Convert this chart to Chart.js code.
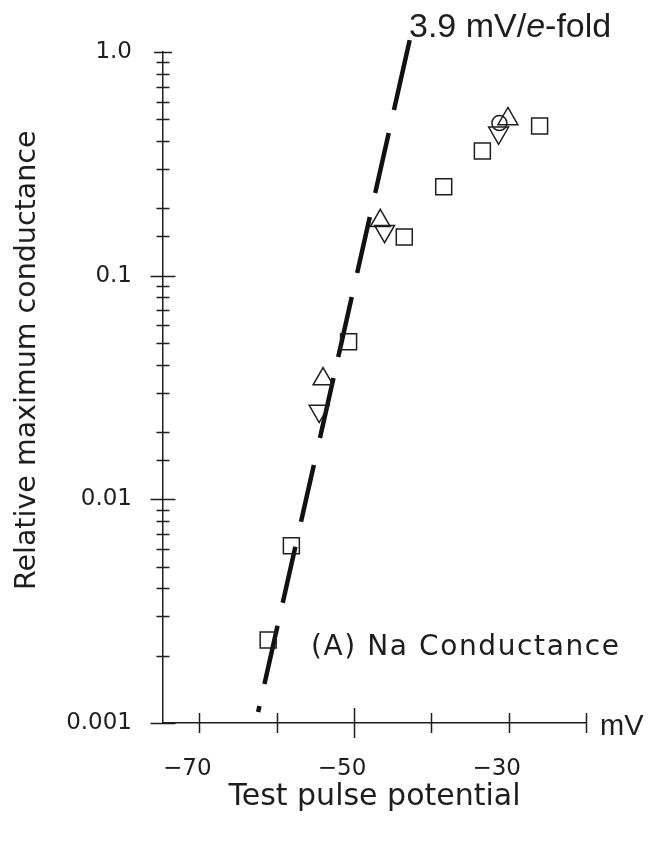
<!DOCTYPE html>
<html>
<head>
<meta charset="utf-8">
<title>Na conductance</title>
<script src="https://cdn.jsdelivr.net/npm/chart.js@4.4.0/dist/chart.umd.min.js"></script>
<style>
  html, body { margin: 0; padding: 0; background: #fff; }
</style>
</head>
<body>
<canvas id="canvas" width="650" height="845"></canvas>
<script>
// values (mV, relative conductance)
var squareX = [-61.1, -58.1, -50.7, -43.5, -38.4, -33.4, -26.0];
var squareY = [0.00235, 0.0062, 0.0507, 0.149, 0.25, 0.361, 0.467];
var upX = [-54.0, -46.6, -30.1];
var upY = [0.0345, 0.176, 0.502];
var downX = [-54.5, -46.05, -31.3];
var downY = [0.0248, 0.158, 0.435];
var circleX = [-31.2];
var circleY = [0.481];
var fitX = [-62.4, -42.8];
var fitY = [0.00112, 1.13];

var xLabelTicks = [-70, -50, -30];
var yMajor = [1, 0.1, 0.01, 0.001];
var yMajorLabels = ['1.0', '0.1', '0.01', '0.001'];

var INK = '#1e1e1e';

function pts(xs, ys) {
    return xs.map(function (x, i) {
        return {x: x, y: ys[i]};
    });
}

function majorIndex(v) {
    for (var i = 0; i < yMajor.length; i++) {
        if (Math.abs(v - yMajor[i]) < yMajor[i] * 1e-6) {
            return i;
        }
    }
    return -1;
}

// ticks cross the axis lines, so they are drawn here from the scales
var axisMarks = {
    id: 'axisMarks',
    afterDraw: function (chart) {
        var ctx = chart.ctx;
        var xs = chart.scales.x;
        var ys = chart.scales.y;
        var left = chart.chartArea.left;
        var bottom = chart.chartArea.bottom;
        ctx.save();
        ctx.strokeStyle = INK;
        ctx.lineWidth = 1.5;
        ctx.beginPath();
        ys.ticks.forEach(function (t) {
            var py = Math.round(ys.getPixelForValue(t.value)) + 0.5;
            var i = majorIndex(t.value);
            var len = i < 0 ? 6.5 : (i === 0 ? 9 : 12.5);
            ctx.moveTo(left - len, py);
            ctx.lineTo(left + len, py);
        });
        xs.ticks.forEach(function (t) {
            var px = Math.round(xs.getPixelForValue(t.value)) + 0.5;
            var len = t.value === -50 ? 15 : 10;
            ctx.moveTo(px, bottom - len);
            ctx.lineTo(px, bottom + len);
        });
        ctx.stroke();

        ctx.fillStyle = INK;
        ctx.textBaseline = 'alphabetic';
        ctx.textAlign = 'left';
        var x = 409;
        [
            {text: '3.9 mV/', font: '34px "Liberation Sans"'},
            {text: 'e', font: 'italic 34px "Liberation Sans"'},
            {text: '-fold', font: '34px "Liberation Sans"'}
        ].forEach(function (p) {
            ctx.font = p.font;
            ctx.fillText(p.text, x, 37);
            x += ctx.measureText(p.text).width;
        });
        ctx.font = '28px "DejaVu Sans"';
        ctx.letterSpacing = '1.6px';
        ctx.fillText('(A) Na Conductance', 311, 655);
        ctx.letterSpacing = '0px';
        ctx.font = '29px "Liberation Sans"';
        ctx.fillText('mV', 600, 735);
        ctx.restore();
    }
};

Chart.defaults.font.family = '"DejaVu Sans", sans-serif';
Chart.defaults.color = INK;

var markerBase = {
    borderColor: INK,
    backgroundColor: 'rgba(0,0,0,0)',
    borderWidth: 1.5,
    showLine: false
};

var chart = new Chart(document.getElementById('canvas'), {
    type: 'scatter',
    data: {
        datasets: [
            Object.assign({}, markerBase, {
                label: 'squares',
                data: pts(squareX, squareY),
                pointStyle: 'rect',
                pointRadius: 11.3
            }),
            Object.assign({}, markerBase, {
                label: 'up',
                data: pts(upX, upY),
                pointStyle: 'triangle',
                pointRadius: 11.5
            }),
            Object.assign({}, markerBase, {
                label: 'down',
                data: pts(downX, downY),
                pointStyle: 'triangle',
                rotation: 180,
                pointRadius: 11.5
            }),
            Object.assign({}, markerBase, {
                label: 'circle',
                data: pts(circleX, circleY),
                pointStyle: 'circle',
                pointRadius: 7.5
            }),
            {
                label: '3.9 mV/e-fold',
                data: pts(fitX, fitY),
                showLine: true,
                pointRadius: 0,
                borderColor: '#111',
                borderWidth: 4.5,
                // uneven hand-cut dashes, measured along the line from its lower end
                borderDash: [6.2, 22.6, 59.5, 23.6, 57.4, 25.6, 58.4, 27.7, 61.5, 21.5,
                    61.5, 24.6, 57.4, 24.6, 61.5, 23.6, 80],
                borderCapStyle: 'butt',
                clip: false
            }
        ]
    },
    options: {
        responsive: false,
        animation: false,
        events: [],
        layout: {
            padding: {top: 52, right: 64, bottom: 0, left: 0}
        },
        plugins: {
            legend: {display: false},
            tooltip: {enabled: false}
        },
        scales: {
            x: {
                type: 'linear',
                min: -74.7,
                max: -20,
                afterFit: function (axis) {
                    axis.height = 122;
                },
                grid: {drawOnChartArea: false, drawTicks: false},
                border: {display: true, color: INK, width: 1.5},
                ticks: {
                    stepSize: 10,
                    includeBounds: false,
                    autoSkip: false,
                    maxRotation: 0,
                    padding: 32,
                    labelOffset: -12,
                    font: {size: 23},
                    callback: function (v) {
                        return xLabelTicks.indexOf(v) >= 0 ? '\u2212' + Math.abs(v) : '';
                    }
                },
                title: {
                    display: true,
                    text: 'Test pulse potential',
                    font: {size: 30},
                    padding: {top: 0, bottom: 29.4}
                }
            },
            y: {
                type: 'logarithmic',
                min: 0.001,
                max: 1,
                afterFit: function (axis) {
                    axis.width = 163;
                },
                grid: {drawOnChartArea: false, drawTicks: false},
                border: {display: true, color: INK, width: 1.5},
                ticks: {
                    autoSkip: false,
                    padding: 31,
                    font: {size: 23},
                    callback: function (v) {
                        var i = majorIndex(v);
                        return i >= 0 ? yMajorLabels[i] : '';
                    }
                },
                title: {
                    display: true,
                    text: '      Relative maximum conductance',
                    font: {size: 28.5},
                    padding: {top: 10, bottom: 0}
                }
            }
        }
    },
    plugins: [axisMarks]
});
</script>
</body>
</html>
